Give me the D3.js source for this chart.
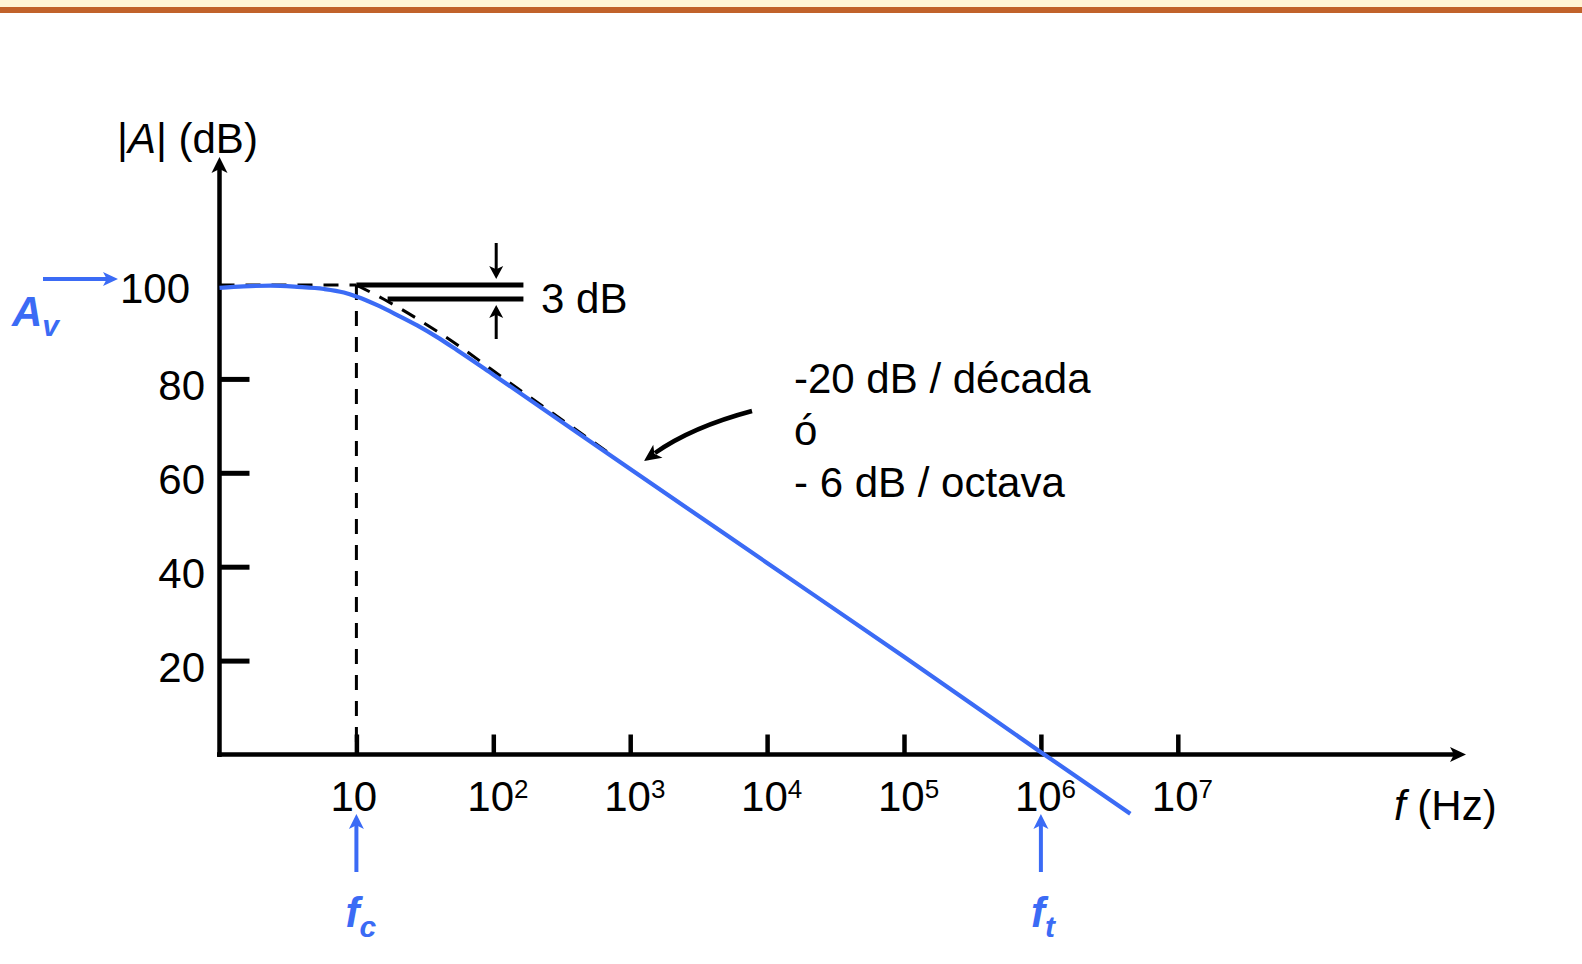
<!DOCTYPE html>
<html>
<head>
<meta charset="utf-8">
<script src="https://cdn.jsdelivr.net/npm/d3@7"></script>
<style>
  html, body { margin: 0; padding: 0; background: #ffffff; }
  svg { display: block; }
  text { font-family: "Liberation Sans", Arial, Helvetica, sans-serif; }
</style>
</head>
<body>
<svg id="chart" width="1582" height="964"></svg>
<script>
// Open-loop gain of an op-amp (Bode magnitude), single dominant pole
const freqHz = [1, 1.5, 2.36, 3.7, 5.8, 8.1, 10.1, 14.2, 19.9, 27.8, 38.9, 54.5, 100, 1000, 1e4, 1e5, 1e6, 4.5e6];
const gainDb = [99.4, 99.7, 99.85, 99.6, 99.15, 98.4, 97.5, 95.7, 93.6, 91.4, 88.9, 86.1, 80.9, 60.8, 40.8, 20.8, 0.5, -12.6];

// Straight-line approximation drawn dashed below the corner
const asymHz = [10, 16, 41, 150, 700];
const asymDb = [100, 96.9, 89.7, 78, 64.2];

// Axis ticks and labels
const freqTicks = [10, 100, 1e3, 1e4, 1e5, 1e6, 1e7];
const freqTickExp = ["", "2", "3", "4", "5", "6", "7"];
const dbTicks = [20, 40, 60, 80];
const dbTickLabels = ["20", "40", "60", "80"];

// Key values
const midbandGain = 100;   // A_v in dB
const cornerFreq = 10;     // f_c in Hz
const unityFreq = 1e6;     // f_t in Hz
const cornerDrop = 3;      // dB below A_v at f_c

const blue = "#3B6BF5";
const svg = d3.select("#chart");

// Header bands
svg.append("rect").attr("x", 0).attr("y", 0).attr("width", 1582).attr("height", 7).attr("fill", "#FFF5D6");
svg.append("rect").attr("x", 0).attr("y", 7).attr("width", 1582).attr("height", 6).attr("fill", "#C1622A");

const x = d3.scaleLog().domain([1, 1e7]).range([219.5, 219.5 + 7 * 136.9]);
const y = d3.scaleLinear().domain([0, 100]).range([754.5, 285]);

// Straight arrow: shaft plus a filled head ending exactly at (x2, y2)
function arrow(g, x1, y1, x2, y2, color, width, headLen, headHalf) {
  const dx = x2 - x1, dy = y2 - y1, len = Math.hypot(dx, dy);
  const ux = dx / len, uy = dy / len;
  const bx = x2 - ux * headLen, by = y2 - uy * headLen;
  g.append("line")
    .attr("x1", x1).attr("y1", y1)
    .attr("x2", x2 - ux * headLen * 0.6).attr("y2", y2 - uy * headLen * 0.6)
    .attr("stroke", color).attr("stroke-width", width);
  const nx = -uy, ny = ux;
  const notchX = x2 - ux * headLen * 0.75, notchY = y2 - uy * headLen * 0.75;
  g.append("path")
    .attr("d", `M${x2},${y2} L${bx + nx * headHalf},${by + ny * headHalf} L${notchX},${notchY} L${bx - nx * headHalf},${by - ny * headHalf} Z`)
    .attr("fill", color);
}

const gAxes = svg.append("g");

// Ticks through D3 axes; domain lines are drawn separately with arrowheads
const xAxis = d3.axisBottom(x).tickValues(freqTicks).tickSizeInner(-20).tickSizeOuter(0).tickFormat(() => "");
const gx = gAxes.append("g").attr("transform", `translate(0,${y(0)})`).call(xAxis);
gx.select(".domain").remove();
gx.selectAll(".tick line").attr("stroke", "#000").attr("stroke-width", 4.5);

const yAxis = d3.axisRight(y).tickValues(dbTicks).tickSizeInner(30).tickSizeOuter(0).tickFormat(() => "");
const gy = gAxes.append("g").attr("transform", `translate(${x(1)},0)`).call(yAxis);
gy.select(".domain").remove();
gy.selectAll(".tick line").attr("stroke", "#000").attr("stroke-width", 5);

// Axis lines with arrowheads
arrow(gAxes, x(1), y(0) + 2.5, x(1), 157, "#000", 4.5, 16, 8);
arrow(gAxes, x(1) - 2.5, y(0), 1466, y(0), "#000", 4.5, 16, 7.5);

// Dashed guides: A_v level up to f_c, drop line at f_c, asymptote
const gDash = svg.append("g").attr("stroke", "#000").attr("stroke-width", 3)
  .attr("stroke-dasharray", "15,11").attr("fill", "none");
gDash.append("line").attr("x1", x(1)).attr("y1", y(midbandGain)).attr("x2", x(cornerFreq)).attr("y2", y(midbandGain));
gDash.append("line").attr("x1", x(cornerFreq)).attr("y1", y(midbandGain)).attr("x2", x(cornerFreq)).attr("y2", y(0) - 3);
const asymLine = d3.line().x(d => x(d[0])).y(d => y(d[1])).curve(d3.curveMonotoneX);
gDash.append("path").attr("d", asymLine(d3.zip(asymHz, asymDb)));

// 3 dB marker
const g3 = svg.append("g");
g3.append("line").attr("x1", x(cornerFreq)).attr("y1", y(midbandGain)).attr("x2", x(166)).attr("y2", y(midbandGain))
  .attr("stroke", "#000").attr("stroke-width", 5);
g3.append("line").attr("x1", x(16.9)).attr("y1", y(midbandGain - cornerDrop)).attr("x2", x(166)).attr("y2", y(midbandGain - cornerDrop))
  .attr("stroke", "#000").attr("stroke-width", 5);
arrow(g3, x(105), 243, x(105), y(midbandGain) - 6, "#000", 3, 13, 7);
arrow(g3, x(105), 339, x(105), y(midbandGain - cornerDrop) + 6, "#000", 3, 13, 7);
g3.append("text").attr("x", 541).attr("y", 313).attr("font-size", 42).attr("fill", "#000").text("3 dB");

// Gain curve
const gainLine = d3.line().x(d => x(d[0])).y(d => y(d[1])).curve(d3.curveMonotoneX);
svg.append("path")
  .attr("d", gainLine(d3.zip(freqHz, gainDb)))
  .attr("fill", "none").attr("stroke", blue).attr("stroke-width", 4.2).attr("stroke-linecap", "butt");

// Tick labels
const gLab = svg.append("g").attr("font-size", 42).attr("fill", "#000");
freqTicks.forEach((f, i) => {
  const t = gLab.append("text").attr("x", x(f) - 26).attr("y", 811);
  t.append("tspan").text("10");
  if (freqTickExp[i]) t.append("tspan").attr("font-size", 26).attr("dy", -13).text(freqTickExp[i]);
});
dbTicks.forEach((v, i) => {
  gLab.append("text").attr("x", 205).attr("y", y(v) + 21).attr("text-anchor", "end").text(dbTickLabels[i]);
});
gLab.append("text").attr("x", 190).attr("y", y(midbandGain) + 18).attr("text-anchor", "end").text(String(midbandGain));

// Axis titles
const yt = gLab.append("text").attr("x", 117).attr("y", 153);
yt.append("tspan").text("|");
yt.append("tspan").attr("font-style", "italic").text("A");
yt.append("tspan").text("| (dB)");
const xt = gLab.append("text").attr("x", 1394).attr("y", 820);
xt.append("tspan").attr("font-style", "italic").text("f");
xt.append("tspan").text(" (Hz)");

// Slope annotation
gLab.append("text").attr("x", 794).attr("y", 393).text("-20 dB / década");
gLab.append("text").attr("x", 794).attr("y", 445).text("ó");
gLab.append("text").attr("x", 794).attr("y", 497).text("- 6 dB / octava");

// Curved pointer to the slope
const cs = [752, 411], cc = [692, 427], ce = [655, 453];
svg.append("path").attr("d", `M${cs[0]},${cs[1]} Q${cc[0]},${cc[1]} ${ce[0]},${ce[1]}`)
  .attr("fill", "none").attr("stroke", "#000").attr("stroke-width", 4.5);
{
  const tip = [644, 461];
  const dx = tip[0] - cc[0], dy = tip[1] - cc[1], l = Math.hypot(dx, dy);
  const ux = dx / l, uy = dy / l, nx = -uy, ny = ux, hl = 17, hw = 8;
  const bx = tip[0] - ux * hl, by = tip[1] - uy * hl;
  svg.append("path")
    .attr("d", `M${tip[0]},${tip[1]} L${bx + nx * hw},${by + ny * hw} L${tip[0] - ux * hl * 0.75},${tip[1] - uy * hl * 0.75} L${bx - nx * hw},${by - ny * hw} Z`)
    .attr("fill", "#000");
}

// Blue markers: A_v, f_c, f_t
const gBlue = svg.append("g");
arrow(gBlue, 43, 279, 118, 279, blue, 4, 15, 7);
arrow(gBlue, x(cornerFreq), 872, x(cornerFreq), 814, blue, 4, 15, 7.5);
arrow(gBlue, x(unityFreq), 872, x(unityFreq), 814, blue, 4, 15, 7.5);

function blueLabel(px, py, main, sub) {
  const t = gBlue.append("text").attr("x", px).attr("y", py).attr("fill", blue)
    .attr("font-weight", "bold").attr("font-style", "italic").attr("font-size", 42);
  t.append("tspan").text(main);
  t.append("tspan").attr("font-size", 30).attr("dy", 10).text(sub);
}
blueLabel(12, 326, "A", "v");
blueLabel(x(cornerFreq) - 11, 927, "f", "c");
blueLabel(x(unityFreq) - 10, 927, "f", "t");
</script>
</body>
</html>
